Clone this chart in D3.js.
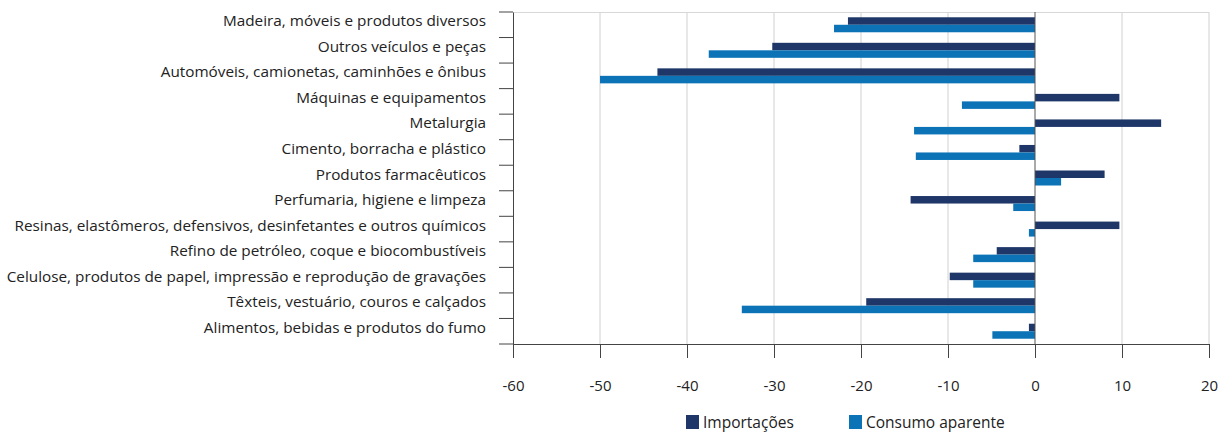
<!DOCTYPE html>
<html><head><meta charset="utf-8">
<script src="https://cdn.jsdelivr.net/npm/d3@7"></script>
<style>body{margin:0;background:#fff}svg{display:block}text{font-family:"Open Sans","Noto Sans",sans-serif;fill:#222}</style>
</head><body><svg id="c" width="1223" height="432"></svg>
<script>
const categories = [
  "Madeira, móveis e produtos diversos",
  "Outros veículos e peças",
  "Automóveis, camionetas, caminhões e ônibus",
  "Máquinas e equipamentos",
  "Metalurgia",
  "Cimento, borracha e plástico",
  "Produtos farmacêuticos",
  "Perfumaria, higiene e limpeza",
  "Resinas, elastômeros, defensivos, desinfetantes e outros químicos",
  "Refino de petróleo, coque e biocombustíveis",
  "Celulose, produtos de papel, impressão e reprodução de gravações",
  "Têxteis, vestuário, couros e calçados",
  "Alimentos, bebidas e produtos do fumo"
];
const importacoes = [-21.5, -30.2, -43.4, 9.7, 14.5, -1.8, 8.0, -14.3, 9.7, -4.4, -9.8, -19.4, -0.7];
const consumoAparente = [-23.1, -37.5, -50.0, -8.4, -13.9, -13.7, 3.0, -2.5, -0.7, -7.1, -7.1, -33.7, -4.9];
const seriesNames = ["Importações", "Consumo aparente"];
const xTicks = [-60, -50, -40, -30, -20, -10, 0, 10, 20];
const colors = ["#1f3768", "#0b73b6"];

const svg = d3.select("#c");
const L = 513, R = 1209, T = 12, B = 344;
const x = d3.scaleLinear().domain([-60, 20]).range([L, R]);
const y = d3.scaleBand().domain(categories).range([T, B]).paddingInner(0).paddingOuter(0);
const sub = d3.scaleBand().domain(seriesNames).range([y.bandwidth()/2 - 7.5, y.bandwidth()/2 + 7.5]);

// grid
svg.append("g").selectAll("line").data(xTicks.filter(d => d !== 0 && d !== -60)).join("line")
  .attr("x1", d => x(d)).attr("x2", d => x(d)).attr("y1", T).attr("y2", B)
  .attr("stroke", "#d0d0d0").attr("stroke-width", 1);
svg.append("line").attr("x1", L).attr("x2", R).attr("y1", T + 0.5).attr("y2", T + 0.5).attr("stroke", "#d8d8d8");

// bars
const data = [importacoes, consumoAparente];
data.forEach((vals, si) => {
  svg.append("g").selectAll("rect").data(vals).join("rect")
    .attr("x", d => x(Math.min(0, d)))
    .attr("width", d => Math.abs(x(d) - x(0)))
    .attr("y", (d, i) => y(categories[i]) + sub(seriesNames[si]))
    .attr("height", sub.bandwidth())
    .attr("fill", colors[si]);
});

// zero line
svg.append("line").attr("x1", x(0)).attr("x2", x(0)).attr("y1", T).attr("y2", B).attr("stroke", "#555").attr("stroke-width", 1);

// x axis
const xa = svg.append("g").attr("transform", `translate(0,${B})`)
  .call(d3.axisBottom(x).tickValues(xTicks).tickSize(14).tickPadding(28).tickFormat(d => String(d)));
xa.select(".domain").attr("stroke", "#444");
xa.selectAll(".tick line").attr("stroke", "#444");
xa.selectAll("text").attr("font-size", 15).attr("font-family", "Open Sans").attr("fill", "#222").attr("dy", "0.3em");

// y axis
const ya = svg.append("g").attr("transform", `translate(${L},0)`)
  .call(d3.axisLeft(y).tickSize(0).tickPadding(27));
ya.select(".domain").attr("stroke", "#444");
ya.selectAll("text").attr("font-size", 15.3).attr("font-family", "Open Sans").attr("fill", "#222").attr("dy", "0.1em");
// boundary ticks
svg.append("g").selectAll("line").data(d3.range(categories.length + 1)).join("line")
  .attr("x1", L - 14).attr("x2", L).attr("y1", i => T + i * y.step()).attr("y2", i => T + i * y.step())
  .attr("stroke", "#444");

// legend
const lg = svg.append("g");
const lx = [686, 849];
seriesNames.forEach((n, i) => {
  lg.append("rect").attr("x", lx[i]).attr("y", 415).attr("width", 13).attr("height", 14).attr("fill", colors[i]);
  lg.append("text").attr("x", lx[i] + 17).attr("y", 428).attr("font-size", 15.5).text(n);
});
</script></body></html>
